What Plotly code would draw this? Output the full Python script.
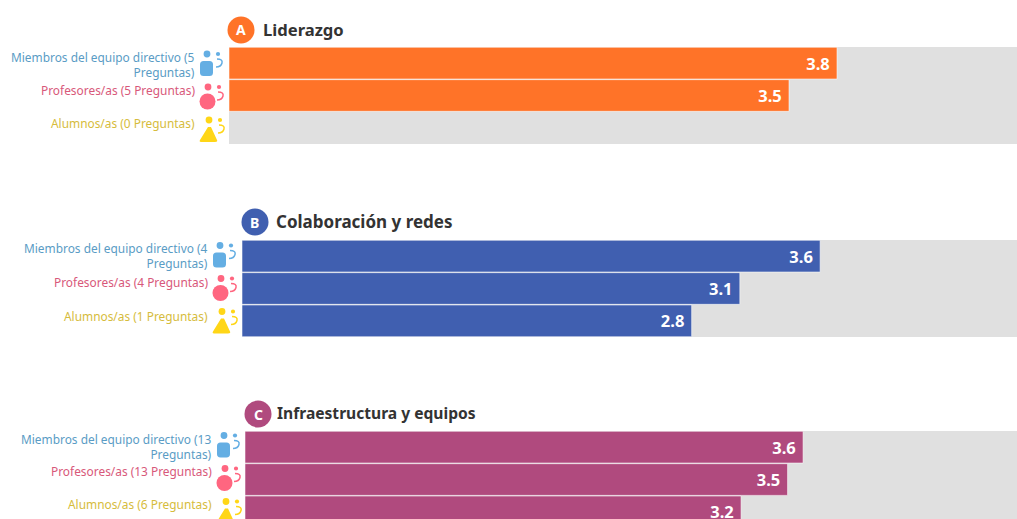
import plotly.graph_objects as go

W, H = 1017, 519
FONT = "Noto Sans"

roles = ["Miembros del equipo directivo", "Profesores/as", "Alumnos/as"]
titles = ["Liderazgo", "Colaboración y redes", "Infraestructura y equipos"]
letters = ["A", "B", "C"]
leadership_values = [3.8, 3.5, None]
collaboration_values = [3.6, 3.1, 2.8]
infrastructure_values = [3.6, 3.5, 3.2]
leadership_questions = [5, 5, 0]
collaboration_questions = [4, 4, 1]
infrastructure_questions = [13, 13, 6]
panel_colors = ["#FF7328", "#405FB0", "#B04A7E"]
role_text_colors = ["#5A9CC5", "#D8587A", "#D6BC3C"]
role_icon_colors = ["#64AEE3", "#FF6680", "#FFD617"]
label_breaks = [True, False, False]

panels = [
    dict(vals=leadership_values, q=leadership_questions, left=229, top=47, bottom=144, xmax=4.925,
         yr=[2.5, -0.5], bx=241, by=30, tx=262, ty=30, ts=16.6, lx=194.5, idx=0, idy=0, ls=[15.5, 14.5, 13.5]),
    dict(vals=collaboration_values, q=collaboration_questions, left=242, top=240, bottom=337, xmax=4.826,
         yr=[2.5, -0.5], bx=255, by=222, tx=275, ty=221, ts=17, lx=207.5, idx=13, idy=191.5, ls=[17.5, 15.5, 13.5]),
    dict(vals=infrastructure_values, q=infrastructure_questions, left=245, top=431, bottom=519, xmax=4.98,
         yr=[2.22, -0.5], bx=258, by=414, tx=276, ty=413, ts=15.6, lx=211.5, idx=17, idy=381.5, ls=[17.5, 17.5, 16.5]),
]

fx = lambda p: p / W
fy = lambda p: 1 - p / H


def circle(cx, cy, r, color):
    return dict(type="circle", xref="paper", yref="paper", x0=fx(cx - r), x1=fx(cx + r),
                y0=fy(cy + r), y1=fy(cy - r), fillcolor=color, line_width=0, layer="above")


def path(points, color, fill=True, width=1.5):
    d = ""
    for cmd, *pts in points:
        d += cmd
        d += " ".join(f"{fx(pts[i]):.5f},{fy(pts[i + 1]):.5f}" for i in range(0, len(pts), 2)) + " "
    if fill:
        d += "Z"
    return dict(type="path", xref="paper", yref="paper", path=d, layer="above",
                fillcolor=color if fill else "rgba(0,0,0,0)",
                line=dict(color=color, width=0 if fill else width))


def icon(kind, dx, dy, color):
    base_y = [54, 87, 120][kind]
    ox, oy = dx + (0 if kind == 0 else 1 if kind == 1 else 2), dy + base_y
    s = [circle(ox + 207, oy, 3.4, color), circle(ox + 218, oy, 2.1, color)]
    if kind == 0:
        x0, x1, y0, y1, r = ox + 200, ox + 213, oy + 7, oy + 22, 3.5
        s.append(path([("M", x0 + r, y0), ("L", x1 - r, y0), ("Q", x1, y0, x1, y0 + r), ("L", x1, y1 - r),
                       ("Q", x1, y1, x1 - r, y1), ("L", x0 + r, y1), ("Q", x0, y1, x0, y1 - r),
                       ("L", x0, y0 + r), ("Q", x0, y0, x0 + r, y0)], color))
    elif kind == 1:
        s.append(circle(ox + 206.5, oy + 14.5, 8, color))
    else:
        s.append(path([("M", ox + 206, oy + 7), ("L", ox + 209, oy + 7), ("L", ox + 215, oy + 20),
                       ("Q", ox + 216, oy + 22, ox + 213, oy + 22), ("L", ox + 199, oy + 22),
                       ("Q", ox + 197, oy + 22, ox + 198, oy + 20)], color))
    s.append(path([("M", ox + 217, oy + 5), ("Q", ox + 223, oy + 5, ox + 222, oy + 9),
                   ("Q", ox + 221, oy + 13, ox + 216, oy + 13)], color, fill=False))
    return s


fig = go.Figure()
shapes, annotations = [], []
layout_axes = {}
for i, p in enumerate(panels):
    n = "" if i == 0 else str(i + 1)
    fig.add_trace(go.Bar(
        y=roles, x=p["vals"], orientation="h", xaxis=f"x{n}", yaxis=f"y{n}",
        marker=dict(color=panel_colors[i], line=dict(color="rgba(255,255,255,0.55)", width=1)),
        width=0.98, texttemplate="%{x:.1f}\u00a0", textposition="inside", insidetextanchor="end",
        textangle=0, textfont=dict(family=FONT, size=16.5, color="white", weight="bold"),
        hoverinfo="skip", showlegend=False, cliponaxis=True))
    layout_axes[f"xaxis{n}"] = dict(domain=[fx(p["left"]), 1], range=[0, p["xmax"]], visible=False,
                                    anchor=f"y{n}", fixedrange=True)
    layout_axes[f"yaxis{n}"] = dict(domain=[fy(p["bottom"]), fy(p["top"])], range=p["yr"], type="category",
                                    categoryorder="array", categoryarray=roles, showticklabels=False,
                                    ticks="", showgrid=False, zeroline=False, showline=False,
                                    anchor=f"x{n}", fixedrange=True)
    # grey track behind each panel
    shapes.append(dict(type="rect", xref="paper", yref="paper", x0=fx(p["left"]), x1=1,
                       y0=fy(p["bottom"]), y1=fy(p["top"]), fillcolor="#E0E0E0", line_width=0, layer="below"))
    # badge and title
    shapes.append(circle(p["bx"], p["by"], 13.5, panel_colors[i]))
    annotations.append(dict(xref="paper", yref="paper", x=fx(p["bx"]), y=fy(p["by"]), text=f"<b>{letters[i]}</b>",
                            showarrow=False, xanchor="center", yanchor="middle",
                            font=dict(family=FONT, size=14, color="white")))
    annotations.append(dict(xref="paper", yref="paper", x=fx(p["tx"]), y=fy(p["ty"]), text=f"<b>{titles[i]}</b>",
                            showarrow=False, xanchor="left", yanchor="middle", xshift=-1,
                            font=dict(family=FONT, size=p["ts"], color="#333333")))
    # role labels and icons
    for k, role in enumerate(roles):
        sep = "<br>" if label_breaks[k] else " "
        first_sep = f" ({p['q'][k]}{sep}Preguntas)"
        annotations.append(dict(xref="paper", yref=f"y{n}", x=fx(p["lx"]), y=role, text=role + first_sep,
                                showarrow=False, xanchor="right", yanchor="top", align="right",
                                yshift=p["ls"][k], xshift=1, borderpad=0,
                                font=dict(family=FONT, size=11.9, color=role_text_colors[k])))
        shapes.extend(icon(k, p["idx"], p["idy"], role_icon_colors[k]))

fig.update_layout(width=W, height=H, margin=dict(l=0, r=0, t=0, b=0), paper_bgcolor="white",
                  plot_bgcolor="rgba(0,0,0,0)", barmode="overlay", shapes=shapes, annotations=annotations,
                  font=dict(family=FONT), **layout_axes)
fig.write_html("out.html", config={"displayModeBar": False},
               post_script="document.body.style.margin='0';document.documentElement.style.overflow='hidden';")
